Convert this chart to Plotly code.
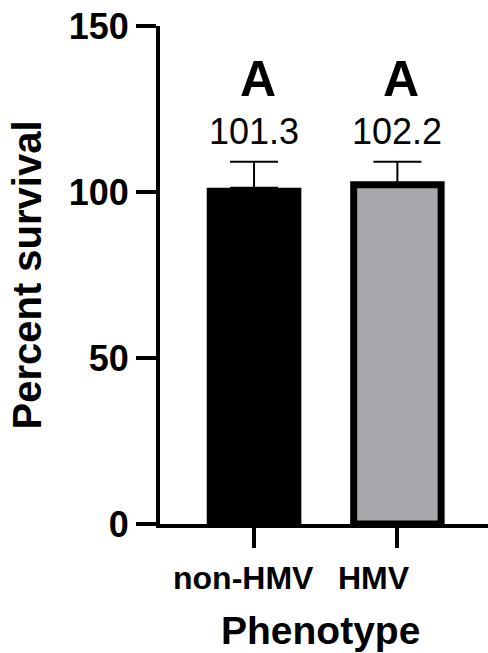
import plotly.graph_objects as go

categories = ["non-HMV", "HMV"]
means = [101.3, 102.2]
errors = [7.8, 6.9]
value_labels = ["101.3", "102.2"]
group_letters = ["A", "A"]
y_ticks = [0, 50, 100, 150]
x_title = "Phenotype"
y_title = "Percent survival"

FONT = "Liberation Sans, Arial, sans-serif"
xpos = list(range(len(categories)))
label_xshift = [-11, -23]

fig = go.Figure()
fig.add_trace(go.Bar(
    x=[xpos[0]], y=[means[0]], width=0.66,
    marker=dict(color="#000000", line=dict(width=0)),
    error_y=dict(type="data", array=[errors[0]], arrayminus=[0], symmetric=False,
                 visible=True, color="#000000", thickness=2, width=24),
    showlegend=False, hoverinfo="skip",
))
fig.add_trace(go.Bar(
    x=[xpos[1]], y=[means[1]], width=0.61,
    marker=dict(color="#a8a7ac", line=dict(width=7, color="#000000")),
    error_y=dict(type="data", array=[errors[1]], arrayminus=[0], symmetric=False,
                 visible=True, color="#000000", thickness=2, width=24),
    showlegend=False, hoverinfo="skip",
))

for i in xpos:
    fig.add_annotation(x=i, y=118.3, xref="x", yref="y", text=value_labels[i],
                       showarrow=False, yanchor="middle", xanchor="center",
                       font=dict(family=FONT, size=36, color="#000000"))
    fig.add_annotation(x=i, y=134.0, xref="x", yref="y", text="<b>%s</b>" % group_letters[i],
                       showarrow=False, yanchor="middle", xanchor="center", xshift=4,
                       font=dict(family=FONT, size=50, color="#000000"))
    # category labels
    fig.add_annotation(x=i, y=0, xref="x", yref="paper", text="<b>%s</b>" % categories[i],
                       showarrow=False, yanchor="middle", xanchor="center",
                       xshift=label_xshift[i], yshift=-54,
                       font=dict(family=FONT, size=32, color="#000000"))

fig.add_annotation(x=0.5, y=0, xref="paper", yref="paper", text="<b>%s</b>" % x_title,
                   showarrow=False, yanchor="middle", xanchor="center",
                   xshift=-4, yshift=-106,
                   font=dict(family=FONT, size=39, color="#000000"))

fig.update_layout(
    width=488, height=653,
    margin=dict(l=160, r=0, t=26, b=129, autoexpand=False),
    paper_bgcolor="white", plot_bgcolor="white",
    barmode="overlay",
    xaxis=dict(
        range=[-0.656, 1.632], tickvals=xpos, showticklabels=False,
        showline=True, linewidth=4, linecolor="#000000",
        ticks="outside", ticklen=20, tickwidth=4, tickcolor="#000000",
        showgrid=False, zeroline=False, automargin=False,
    ),
    yaxis=dict(
        range=[0, 150], tickvals=y_ticks,
        showline=True, linewidth=4, linecolor="#000000",
        ticks="outside", ticklen=20, tickwidth=4, tickcolor="#000000",
        showgrid=False, zeroline=False, automargin=False, ticklabeloverflow="allow",
        tickfont=dict(family=FONT, size=36, color="#000000", weight="bold"),
        title=dict(text=y_title, font=dict(family=FONT, size=40, color="#000000", weight="bold"),
                   standoff=16),
    ),
)

fig.write_html("out.html", config={"displayModeBar": False},
               post_script="document.body.style.margin='0';")
